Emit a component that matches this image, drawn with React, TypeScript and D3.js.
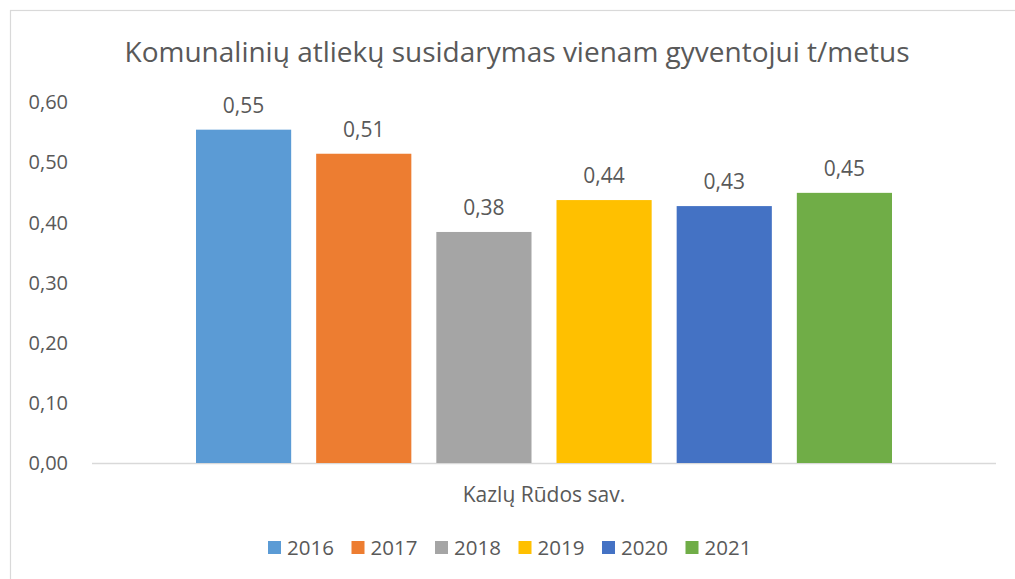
import React from "react";
import * as d3 from "d3";

const title = "Komunalinių atliekų susidarymas vienam gyventojui t/metus";
const category = "Kazlų Rūdos sav.";
const years = ["2016", "2017", "2018", "2019", "2020", "2021"];
const values = [0.554, 0.514, 0.384, 0.437, 0.427, 0.449];
const labels = ["0,55", "0,51", "0,38", "0,44", "0,43", "0,45"];
const colors = ["#5B9BD5", "#ED7D31", "#A5A5A5", "#FFC000", "#4472C4", "#70AD47"];
const yTicks = [0, 0.1, 0.2, 0.3, 0.4, 0.5, 0.6];

const W = 1015;
const H = 579;
const FONT = "'Open Sans', sans-serif";
const TXT = "#595959";

export default function App() {
  const plotLeft = 92;
  const plotRight = 996;
  const y = d3.scaleLinear().domain([0, 0.6]).range([463, 102]);
  const cx = (plotLeft + plotRight) / 2;
  const groupHalf = 348;
  const x = d3
    .scaleBand<string>()
    .domain(years)
    .range([cx - groupHalf, cx + groupHalf])
    .paddingInner(0.208)
    .paddingOuter(0);
  const fmt = (v: number) => d3.format(".2f")(v).replace(".", ",");

  const legendStart = 268;
  const legendStep = 83.5;

  return (
    <svg
      width={W}
      height={H}
      style={{ position: "absolute", left: 0, top: 0, display: "block", background: "#fff" }}
    >
      <rect x={10.5} y={10.5} width={W + 20} height={H + 20} fill="#fff" stroke="#d9d9d9" strokeWidth={1.2} />
      <text x={517} y={62} textAnchor="middle" fontFamily={FONT} fontSize={28} fill={TXT}>
        {title}
      </text>
      {yTicks.map((t) => (
        <text
          key={t}
          x={68}
          y={y(t)}
          dy="0.36em"
          textAnchor="end"
          fontFamily={FONT}
          fontSize={20}
          fill={TXT}
        >
          {fmt(t)}
        </text>
      ))}
      <line x1={plotLeft} x2={plotRight} y1={y(0) + 0.5} y2={y(0) + 0.5} stroke="#d9d9d9" strokeWidth={1.5} />
      {years.map((yr, i) => (
        <g key={yr}>
          <rect x={x(yr)} y={y(values[i])} width={x.bandwidth()} height={y(0) - y(values[i])} fill={colors[i]} />
          <text
            x={(x(yr) as number) + x.bandwidth() / 2}
            y={y(values[i]) - 17}
            textAnchor="middle"
            fontFamily={FONT}
            fontSize={21}
            fill={TXT}
          >
            {labels[i]}
          </text>
        </g>
      ))}
      <text x={cx} y={502} textAnchor="middle" fontFamily={FONT} fontSize={21} fill={TXT}>
        {category}
      </text>
      {years.map((yr, i) => (
        <g key={"l" + yr} transform={`translate(${legendStart + i * legendStep},0)`}>
          <rect x={0} y={541} width={13} height={13} fill={colors[i]} />
          <text x={19} y={555} fontFamily={FONT} fontSize={20.5} fill={TXT}>
            {yr}
          </text>
        </g>
      ))}
    </svg>
  );
}
